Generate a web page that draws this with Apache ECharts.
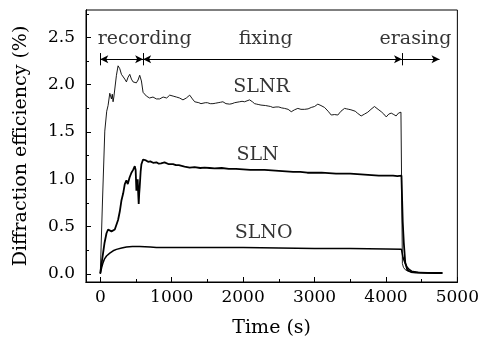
<!DOCTYPE html>
<html>
<head>
<meta charset="utf-8">
<script src="https://cdn.jsdelivr.net/npm/echarts@6/dist/echarts.min.js"></script>
<style>
  html, body { margin: 0; padding: 0; background: #fff; }
  #chart { width: 482px; height: 343px; }
</style>
</head>
<body>
<div id="chart"></div>
<script>
// tick labels
var xTicks = [0, 1000, 2000, 3000, 4000, 5000];
var xMinor = [500, 1500, 2500, 3500, 4500];
var yTicks = [0, 0.5, 1.0, 1.5, 2.0, 2.5];
var yMinor = [0.25, 0.75, 1.25, 1.75, 2.25, 2.75];

// SLNR (thin line)
var slnrT = [0, 30, 63, 90, 109, 133, 145, 156, 168, 179, 190, 203, 226, 249, 273, 296, 319, 343, 366, 389, 413, 436, 459, 482, 505, 529, 552, 576, 599, 622, 646, 668, 690, 714, 738, 760, 785, 808, 832, 856, 880, 905, 930, 950, 972, 996, 1020, 1043, 1066, 1090, 1110, 1135, 1158, 1180, 1205, 1230, 1252, 1270, 1290, 1305, 1322, 1350, 1380, 1410, 1438, 1470, 1500, 1540, 1578, 1615, 1650, 1685, 1717, 1740, 1760, 1785, 1811, 1845, 1880, 1915, 1951, 1985, 2020, 2055, 2091, 2110, 2130, 2145, 2161, 2190, 2220, 2250, 2277, 2315, 2350, 2385, 2417, 2460, 2500, 2540, 2580, 2605, 2630, 2655, 2674, 2700, 2720, 2745, 2766, 2790, 2810, 2835, 2860, 2885, 2910, 2930, 2954, 2980, 3000, 3025, 3046, 3070, 3090, 3115, 3140, 3165, 3190, 3210, 3234, 3255, 3280, 3305, 3326, 3350, 3370, 3395, 3420, 3450, 3480, 3510, 3536, 3570, 3600, 3625, 3653, 3675, 3700, 3725, 3746, 3770, 3790, 3815, 3839, 3865, 3890, 3910, 3934, 3950, 3970, 3990, 4004, 4020, 4040, 4058, 4074, 4090, 4110, 4125, 4142, 4160, 4175, 4190, 4200, 4210, 4217, 4222, 4230, 4245, 4270, 4310, 4380, 4480, 4600, 4700, 4790];
var slnrV = [0.0, 0.75, 1.51, 1.72, 1.78, 1.91, 1.92, 1.85, 1.90, 1.82, 1.87, 1.89, 2.10, 2.20, 2.17, 2.11, 2.10, 2.06, 2.03, 2.08, 2.11, 2.06, 2.03, 2.04, 2.02, 2.05, 2.10, 2.04, 1.92, 1.90, 1.88, 1.87, 1.86, 1.875, 1.87, 1.86, 1.85, 1.865, 1.85, 1.86, 1.87, 1.865, 1.86, 1.875, 1.89, 1.88, 1.88, 1.87, 1.87, 1.865, 1.86, 1.85, 1.84, 1.855, 1.86, 1.875, 1.89, 1.87, 1.85, 1.83, 1.82, 1.815, 1.81, 1.80, 1.80, 1.81, 1.81, 1.80, 1.80, 1.805, 1.81, 1.815, 1.82, 1.81, 1.80, 1.80, 1.795, 1.80, 1.81, 1.815, 1.82, 1.825, 1.82, 1.83, 1.84, 1.83, 1.82, 1.81, 1.80, 1.795, 1.79, 1.785, 1.78, 1.78, 1.775, 1.77, 1.76, 1.765, 1.765, 1.755, 1.75, 1.745, 1.74, 1.73, 1.715, 1.725, 1.735, 1.745, 1.75, 1.745, 1.74, 1.735, 1.74, 1.745, 1.745, 1.75, 1.76, 1.765, 1.77, 1.785, 1.795, 1.79, 1.78, 1.77, 1.76, 1.745, 1.72, 1.70, 1.68, 1.685, 1.685, 1.68, 1.68, 1.70, 1.72, 1.735, 1.75, 1.745, 1.74, 1.735, 1.74, 1.72, 1.70, 1.685, 1.67, 1.68, 1.69, 1.70, 1.71, 1.725, 1.74, 1.755, 1.77, 1.755, 1.74, 1.725, 1.715, 1.70, 1.69, 1.675, 1.66, 1.675, 1.69, 1.695, 1.70, 1.69, 1.685, 1.675, 1.67, 1.685, 1.70, 1.68, 1.69, 1.71, 1.72, 1.70, 0.11, 0.07, 0.045, 0.03, 0.022, 0.018, 0.015, 0.012, 0.01, 0.012, 0.015];

// SLN (thick line)
var slnT = [0, 20, 39, 60, 87, 109, 130, 157, 180, 203, 226, 249, 273, 297, 320, 343, 366, 385, 410, 436, 460, 483, 495, 506, 515, 524, 531, 538, 545, 552, 565, 576, 599, 620, 640, 670, 700, 740, 786, 820, 850, 900, 960, 1018, 1060, 1100, 1180, 1252, 1320, 1400, 1460, 1531, 1600, 1700, 1800, 1900, 2000, 2100, 2200, 2300, 2400, 2500, 2600, 2700, 2800, 2900, 3000, 3100, 3200, 3300, 3400, 3500, 3600, 3700, 3800, 3900, 4000, 4100, 4160, 4217, 4222, 4235, 4250, 4270, 4300, 4350, 4420, 4550, 4700, 4790];
var slnV = [0.01, 0.12, 0.22, 0.33, 0.43, 0.47, 0.46, 0.45, 0.47, 0.47, 0.52, 0.57, 0.66, 0.78, 0.85, 0.95, 0.99, 0.95, 1.02, 1.07, 1.10, 1.14, 1.10, 0.88, 0.97, 1.00, 0.85, 0.74, 0.85, 0.92, 1.08, 1.16, 1.21, 1.19, 1.20, 1.185, 1.19, 1.175, 1.18, 1.165, 1.17, 1.18, 1.16, 1.16, 1.15, 1.15, 1.135, 1.125, 1.13, 1.12, 1.125, 1.12, 1.115, 1.12, 1.11, 1.11, 1.105, 1.10, 1.10, 1.10, 1.095, 1.09, 1.085, 1.08, 1.08, 1.07, 1.07, 1.07, 1.065, 1.06, 1.06, 1.06, 1.055, 1.05, 1.045, 1.04, 1.04, 1.04, 1.035, 1.04, 0.90, 0.55, 0.33, 0.12, 0.04, 0.02, 0.015, 0.012, 0.01, 0.01];

// SLNO (medium line)
var slnoT = [0, 20, 39, 60, 87, 133, 180, 226, 300, 366, 450, 552, 700, 786, 1000, 1500, 2000, 2500, 3000, 3500, 4000, 4217, 4240, 4265, 4290, 4320, 4360, 4450, 4600, 4790];
var slnoV = [0.0, 0.07, 0.12, 0.16, 0.19, 0.22, 0.245, 0.26, 0.275, 0.285, 0.29, 0.29, 0.285, 0.28, 0.28, 0.28, 0.28, 0.275, 0.27, 0.27, 0.265, 0.26, 0.17, 0.12, 0.08, 0.05, 0.03, 0.015, 0.01, 0.01];

// curve labels
var curveNames = ['SLNR', 'SLN', 'SLNO'];
var curveLabelT = [2259, 2203, 2287];
var curveLabelV = [1.98, 1.26, 0.43];

// stage annotations
var stageNames = ['recording', 'fixing', 'erasing'];
var stageLabelT = [622, 2315, 4413];
var stageLabelV = 2.48;
var stageBounds = [0, 600, 4225, 4750];
var arrowV = 2.27;

function pairs(t, v) {
  var out = [];
  for (var i = 0; i < t.length; i++) out.push([t[i], v[i]]);
  return out;
}

var font = 'DejaVu Serif';
var black = '#000';

var textPts = [];
for (var i = 0; i < curveNames.length; i++) textPts.push([curveLabelT[i], curveLabelV[i], curveNames[i]]);
for (var j = 0; j < stageNames.length; j++) textPts.push([stageLabelT[j], stageLabelV, stageNames[j]]);

var marks = [];
// arrow segments between stage boundaries
for (var k = 0; k < stageBounds.length - 1; k++) {
  marks.push([
    { coord: [stageBounds[k], arrowV], symbol: k == 2 ? 'none' : 'arrow' },
    { coord: [stageBounds[k + 1], arrowV], symbol: 'arrow' }
  ]);
}
// short vertical bars at the boundaries
for (var m = 0; m < 3; m++) {
  marks.push([
    { coord: [stageBounds[m], arrowV - 0.065], symbol: 'none' },
    { coord: [stageBounds[m], arrowV + 0.065], symbol: 'none' }
  ]);
}

var chart = echarts.init(document.getElementById('chart'));
chart.setOption({
  animation: false,
  grid: { left: 86, right: 24, top: 10, bottom: 57, show: true, borderColor: black, borderWidth: 1 },
  xAxis: [
    {
      type: 'value', min: -200, max: 5000,
      name: 'Time (s)', nameLocation: 'middle', nameGap: 37,
      nameTextStyle: { fontFamily: font, fontSize: 19, color: black },
      axisLine: { onZero: false, lineStyle: { color: black, width: 1 } },
      axisTick: { inside: true, length: 5, customValues: xTicks, lineStyle: { color: black } },
      axisLabel: {
        customValues: xTicks, fontFamily: font, fontSize: 17, color: black, margin: 7,
        formatter: function (v) { return String(v); }
      },
      splitLine: { show: false }
    },
    {
      type: 'value', min: -200, max: 5000, position: 'bottom', offset: 0,
      axisLine: { show: true, onZero: false, lineStyle: { color: black, width: 1 } },
      axisTick: { show: true, inside: true, length: 3, customValues: xMinor, lineStyle: { color: black } },
      axisLabel: { show: false },
      splitLine: { show: false }
    }
  ],
  yAxis: [
    {
      type: 'value', min: -0.085, max: 2.79,
      name: 'Diffraction efficiency (%)', nameLocation: 'middle', nameGap: 55,
      nameTextStyle: { fontFamily: font, fontSize: 19, color: black },
      axisLine: { show: true, onZero: false, lineStyle: { color: black, width: 1 } },
      axisTick: { show: true, inside: true, length: 5, customValues: yTicks, lineStyle: { color: black } },
      axisLabel: {
        customValues: yTicks, fontFamily: font, fontSize: 17, color: black, margin: 11,
        formatter: function (v) { return v.toFixed(1); }
      },
      splitLine: { show: false }
    },
    {
      type: 'value', min: -0.085, max: 2.79, position: 'left', offset: 0,
      axisLine: { show: true, onZero: false, lineStyle: { color: black, width: 1 } },
      axisTick: { show: true, inside: true, length: 3, customValues: yMinor, lineStyle: { color: black } },
      axisLabel: { show: false },
      splitLine: { show: false }
    }
  ],
  series: [
    {
      name: 'SLNR', type: 'line', showSymbol: false, symbol: 'none',
      data: pairs(slnrT, slnrV),
      lineStyle: { color: black, width: 0.9 }
    },
    {
      name: 'SLN', type: 'line', showSymbol: false, symbol: 'none',
      data: pairs(slnT, slnV),
      lineStyle: { color: black, width: 1.8 }
    },
    {
      name: 'SLNO', type: 'line', showSymbol: false, symbol: 'none',
      data: pairs(slnoT, slnoV),
      lineStyle: { color: black, width: 1.5 }
    },
    {
      name: 'text', type: 'scatter', symbolSize: 0,
      data: textPts,
      label: {
        show: true, position: 'inside', color: black, fontFamily: font, fontSize: 19,
        formatter: function (p) { return p.value[2]; }
      },
      silent: true,
      markLine: {
        silent: true, animation: false,
        symbol: ['arrow', 'arrow'], symbolSize: [6, 8],
        label: { show: false },
        lineStyle: { color: black, width: 1, type: 'solid' },
        data: marks
      }
    }
  ]
});
</script>
</body>
</html>
